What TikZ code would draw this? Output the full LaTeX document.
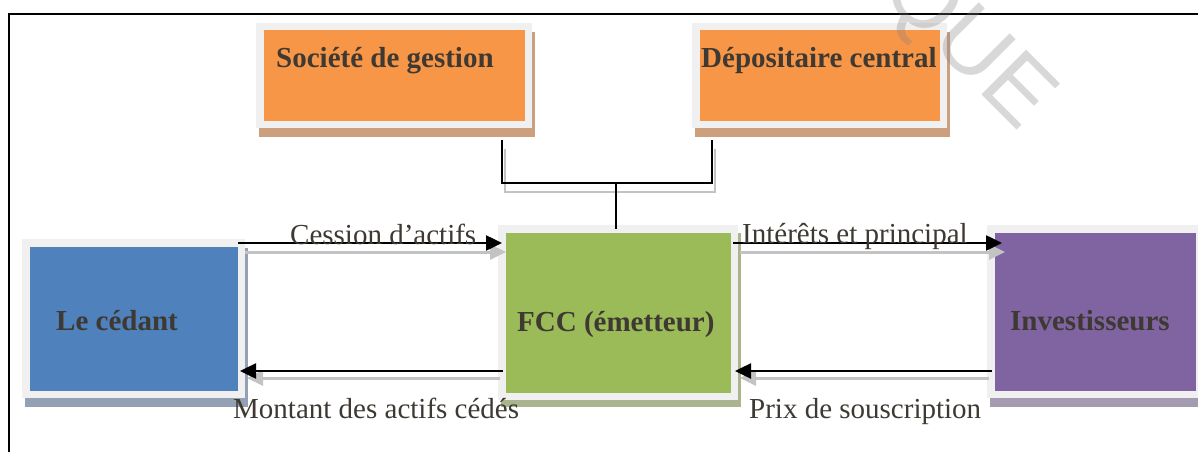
\documentclass[tikz,border=0pt]{standalone}
\usepackage{fontspec}
\setmainfont{Liberation Serif}
\newfontfamily\wmfont{Liberation Sans}
\usetikzlibrary{arrows.meta,backgrounds,calc}
\definecolor{txtcol}{RGB}{62,57,50}
\definecolor{rimcol}{RGB}{240,240,240}
\definecolor{orangefill}{RGB}{247,150,70}
\definecolor{bluefill}{RGB}{79,129,189}
\definecolor{greenfill}{RGB}{155,187,89}
\definecolor{purplefill}{RGB}{128,100,162}
\definecolor{orangeshadow}{RGB}{204,160,127}
\definecolor{blueshadow}{RGB}{148,160,180}
\definecolor{greenshadow}{RGB}{170,180,142}
\definecolor{purpleshadow}{RGB}{164,155,176}
\definecolor{arrshadow}{RGB}{195,195,195}
\tikzset{
  boxnode/.style={draw=rimcol, line width=7.5pt, inner sep=0pt, rectangle},
  boxtext/.style={font=\fontsize{29}{34}\selectfont\bfseries, text=txtcol, inner sep=0pt, anchor=base west},
  edgetext/.style={font=\fontsize{29}{34}\selectfont, text=txtcol, inner sep=0pt, anchor=base west},
  flow/.style={line width=2.5pt, draw=black, -{Triangle[length=16pt,width=15pt]}},
  flowshadow/.style={line width=3pt, draw=arrshadow, -{Triangle[length=16pt,width=15pt]}},
  conn/.style={line width=1.6pt, draw=black},
  connshadow/.style={line width=2pt, draw=arrshadow},
  frameline/.style={line width=2pt, draw=black}
}
\begin{document}
\begin{tikzpicture}[x=1pt,y=-1pt]
\useasboundingbox (0,0) rectangle (1198,452);
% frame
\draw[frameline] (9,452) -- (9,14) -- (1198,14);
% boxes
\node[boxnode, fill=orangefill, minimum width=268.5pt, minimum height=97.5pt] (soc) at (394,75.5) {};
\node[boxnode, fill=orangefill, minimum width=247.5pt, minimum height=97.5pt] (dep) at (819.5,75.5) {};
\node[boxnode, fill=bluefill, minimum width=215.5pt, minimum height=151.5pt] (ced) at (133.5,318.5) {};
\node[boxnode, fill=greenfill, minimum width=232.5pt, minimum height=167.5pt] (fcc) at (618,312.5) {};
\node[boxnode, fill=purplefill, minimum width=208.5pt, minimum height=165.5pt] (inv) at (1095,311.5) {};
% page background and box shadows
\begin{scope}[on background layer]
\fill[white] (0,0) rectangle (1198,452);
\fill[orangeshadow] ([xshift=3pt,yshift=-9pt]soc.north west) rectangle ([xshift=3pt,yshift=-9pt]soc.south east);
\fill[orangeshadow] ([xshift=3pt,yshift=-9pt]dep.north west) rectangle ([xshift=3pt,yshift=-9pt]dep.south east);
\fill[blueshadow] ([xshift=3pt,yshift=-9pt]ced.north west) rectangle ([xshift=3pt,yshift=-9pt]ced.south east);
\fill[greenshadow] ([xshift=3pt,yshift=-8pt]fcc.north west) rectangle ([xshift=3pt,yshift=-7pt]fcc.south east);
\fill[purpleshadow] ([xshift=3pt,yshift=-8pt]inv.north west) rectangle ([xshift=3pt,yshift=-9pt]inv.south east);
\end{scope}
% box texts
\node[boxtext] at (276,67) {Société de gestion};
\node[boxtext] at (701,67) {Dépositaire central};
\node[boxtext] at (56,330) {Le cédant};
\node[boxtext] at (517,331) {FCC (émetteur)};
\node[boxtext] at (1010,330) {Investisseurs};
% bracket from top boxes to FCC
\coordinate (bl) at (502,183);
\coordinate (br) at (712,183);
\coordinate (bm) at (616,183);
\draw[connshadow] ([xshift=3pt,yshift=-21pt]soc.south -| bl) -- ([xshift=3pt,yshift=-9pt]bl) -- ([xshift=3pt,yshift=-9pt]br) -- ([xshift=3pt,yshift=-21pt]dep.south -| br);
\draw[conn] ([yshift=-12pt]soc.south -| bl) -- (bl) -- (br) -- ([yshift=-12pt]dep.south -| br);
\draw[conn] (bm) -- ([yshift=-4pt]fcc.north -| bm);
% flows
\coordinate (ytop) at (0,243);
\coordinate (ybot) at (0,371);
\draw[flowshadow] ([xshift=0pt,yshift=-9pt]ced.east |- ytop) -- ([xshift=8pt,yshift=-9pt]fcc.west |- ytop);
\draw[flow] ([xshift=-7pt]ced.east |- ytop) -- ([xshift=4pt]fcc.west |- ytop);
\draw[flowshadow] ([xshift=2pt,yshift=-9pt]fcc.east |- ytop) -- ([xshift=18pt,yshift=-9pt]inv.west |- ytop);
\draw[flow] ([xshift=-5pt]fcc.east |- ytop) -- ([xshift=15pt]inv.west |- ytop);
\draw[flowshadow] ([xshift=2pt,yshift=-7pt]fcc.west |- ybot) -- ([xshift=2pt,yshift=-7pt]ced.east |- ybot);
\draw[flow] ([xshift=5pt]fcc.west |- ybot) -- ([xshift=-5pt]ced.east |- ybot);
\draw[flowshadow] ([xshift=2pt,yshift=-7pt]inv.west |- ybot) -- ([xshift=2pt,yshift=-7pt]fcc.east |- ybot);
\draw[flow] ([xshift=5pt]inv.west |- ybot) -- ([xshift=-3pt]fcc.east |- ybot);
% flow labels
\node[edgetext] at (290,244) {Cession d’actifs};
\node[edgetext] at (742,243) {Intérêts et principal};
\node[edgetext] at (233,418) {Montant des actifs cédés};
\node[edgetext] at (749,418) {Prix de souscription};
% watermark
\node[rotate=-45, font=\wmfont\fontsize{92}{100}\selectfont, text=black!50, opacity=0.3, inner sep=0pt] at (966,46) {QUE};
\end{tikzpicture}
\end{document}
